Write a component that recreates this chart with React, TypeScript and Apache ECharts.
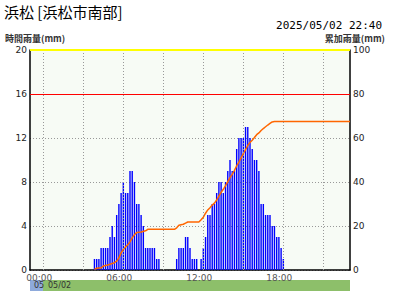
import React, { useEffect, useRef } from "react";
import * as echarts from "echarts";

// 10-minute slots, hourly-rate rainfall (mm), starting at 03:50 on 05/02
const slotStart = "03:50";
const hourlyRain = [
  1, 1, 1, 2, 2, 2, 2, 3, 4, 3, 5, 6, 7, 8, 7, 7, 9, 9, 8, 6, 6, 5, 4, 2, 2, 2, 2, 2, 1, 1,
  0, 0, 0, 0, 0, 0, 0,
  1, 2, 2, 2, 3, 3, 2, 1, 1, 1, 0,
  1, 2, 3, 5, 5, 6, 6, 7, 8, 8, 7, 8, 9, 10, 9, 9, 11, 12, 12, 12, 13, 13, 12, 11, 10, 10, 9,
  6, 6, 5, 5, 5, 4, 4, 3, 3, 2, 1,
];

// cumulative rainfall (mm), read points
const cumTimes = [
  "03:50", "04:00", "04:20", "04:30", "04:50", "05:00", "05:20", "05:30", "05:40", "05:50",
  "06:00", "06:10", "06:20", "06:30", "06:40", "06:50", "07:00", "07:20", "07:40", "07:50",
  "09:50", "10:00", "10:10", "10:30", "10:40", "10:50", "11:40", "11:50", "12:00", "12:10",
  "12:20", "12:30", "12:40", "12:50", "13:00", "13:10", "13:20", "13:30", "13:40", "13:50",
  "14:00", "14:10", "14:20", "14:30", "14:40", "14:50", "15:00", "15:10", "15:20", "15:30",
  "15:40", "15:50", "16:00", "16:10", "16:20", "16:30", "16:40", "16:50", "17:00", "17:10",
  "17:20", "23:00",
];
const cumValues = [
  0.3, 0.8, 1.0, 1.8, 2.3, 2.6, 3.3, 4.0, 5.5, 7.8,
  9.3, 10.5, 11.5, 12.8, 14.6, 16.0, 17.0, 17.3, 17.8, 18.5,
  18.5, 19.2, 20.3, 20.8, 21.3, 21.8, 21.8, 22.8, 24.0, 25.8,
  27.3, 28.3, 29.5, 30.4, 31.8, 33.6, 35.3, 36.7, 38.4, 40.2,
  42.0, 43.5, 45.3, 47.3, 49.0, 51.0, 52.9, 54.7, 56.6, 58.0,
  59.0, 60.2, 61.5, 62.3, 63.4, 64.3, 65.1, 65.9, 66.6, 67.3,
  67.5, 67.5,
];

const xLabelTimes = ["00:00", "06:00", "12:00", "18:00"];
const xGridTimes = ["00:00", "03:00", "06:00", "09:00", "12:00", "15:00", "18:00", "21:00"];
const warningLevel = 16;
const topLevel = 20;

const toMin = (s: string) => {
  const [h, m] = s.split(":").map(Number);
  return h * 60 + m;
};
const fmt = (v: number) => {
  const h = Math.floor(v / 60);
  const m = v % 60;
  return String(h).padStart(2, "0") + ":" + String(m).padStart(2, "0");
};

export default function App() {
  const ref = useRef<HTMLDivElement>(null);
  useEffect(() => {
    if (!ref.current) return;
    const chart = echarts.init(ref.current, null, { renderer: "svg" });
    const start = toMin(slotStart);
    const barData = hourlyRain.map((v, i) => [start + 10 * i, v]);
    const lineData = cumTimes.map((t, i) => [toMin(t), cumValues[i]]);
    const cjk = '"Noto Sans CJK JP", sans-serif';
    chart.setOption({
      animation: false,
      backgroundColor: "#ffffff",
      grid: {
        left: 30,
        right: 50,
        top: 50,
        bottom: 30,
        show: true,
        backgroundColor: "#F7FBF5",
        borderWidth: 0,
      },
      xAxis: {
        type: "value",
        min: -60,
        max: 1380,
        splitLine: { show: false },
        axisTick: { show: false },
        axisLine: { onZero: false, lineStyle: { color: "#000", width: 1.5 } },
        axisLabel: {
          customValues: xLabelTimes.map(toMin),
          formatter: (v: number) => fmt(v),
          color: "#555",
          fontSize: 9,
          fontFamily: "DejaVu Sans",
          margin: 3,
          padding: [0, 8, 0, 0],
        },
      },
      yAxis: [
        {
          type: "value",
          min: 0,
          max: 20,
          interval: 4,
          axisLine: { show: true, onZero: false, lineStyle: { color: "#000", width: 1.5 } },
          axisTick: { show: false },
          axisLabel: { color: "#222", fontSize: 9, fontFamily: "DejaVu Sans", margin: 3 },
          splitLine: { show: true, lineStyle: { color: "#999", type: [1, 2], width: 1 } },
        },
        {
          type: "value",
          min: 0,
          max: 100,
          interval: 20,
          position: "right",
          axisLine: { show: true, onZero: false, lineStyle: { color: "#000", width: 1.5 } },
          axisTick: { show: false },
          axisLabel: { color: "#222", fontSize: 9, fontFamily: "DejaVu Sans", margin: 3 },
          splitLine: { show: false },
        },
      ],
      series: [
        {
          type: "bar",
          data: barData,
          barWidth: 1.4,
          itemStyle: { color: "#0000FF" },
          markLine: {
            silent: true,
            symbol: ["none", "none"],
            label: { show: false },
            animation: false,
            data: [
              ...xGridTimes.map((t) => ({
                xAxis: toMin(t),
                lineStyle: { color: "#999", type: [1, 2], width: 1 },
              })),
              { yAxis: warningLevel, lineStyle: { color: "#FF0000", type: "solid", width: 1 } },
              { yAxis: topLevel, lineStyle: { color: "#FFFF00", type: "solid", width: 2 } },
            ],
          },
        },
        {
          type: "line",
          yAxisIndex: 1,
          data: lineData,
          symbol: "none",
          lineStyle: { color: "#FF6600", width: 1.5 },
          itemStyle: { color: "#FF6600" },
        },
      ],
      graphic: [
        {
          type: "text",
          x: 4,
          y: 11,
          style: {
            text: "浜松 [浜松市南部]",
            font: `15px ${cjk}`,
            fill: "#000",
            verticalAlign: "middle",
          },
        },
        {
          type: "text",
          right: 18,
          top: 20,
          style: { text: "2025/05/02 22:40", font: '11px "DejaVu Sans Mono"', fill: "#000" },
        },
        {
          type: "text",
          left: 5,
          top: 34,
          style: { text: "時間雨量(mm)", font: `bold 9px ${cjk}`, fill: "#333" },
        },
        {
          type: "text",
          right: 15,
          top: 34,
          style: { text: "累加雨量(mm)", font: `bold 9px ${cjk}`, fill: "#333" },
        },
        {
          type: "rect",
          shape: { x: 30, y: 280, width: 13, height: 11 },
          style: { fill: "#8EAADB" },
        },
        {
          type: "rect",
          shape: { x: 43, y: 280, width: 307, height: 11 },
          style: { fill: "#8DBF6A" },
        },
        {
          type: "text",
          x: 34,
          y: 285.5,
          style: { text: "05", font: "8px DejaVu Sans", fill: "#333", verticalAlign: "middle" },
        },
        {
          type: "text",
          x: 48,
          y: 285.5,
          style: { text: "05/02", font: "8px DejaVu Sans", fill: "#333", verticalAlign: "middle" },
        },
      ],
    });
    return () => chart.dispose();
  }, []);
  return (
    <div
      ref={ref}
      style={{ position: "absolute", left: 0, top: 0, width: 400, height: 300 }}
    />
  );
}
